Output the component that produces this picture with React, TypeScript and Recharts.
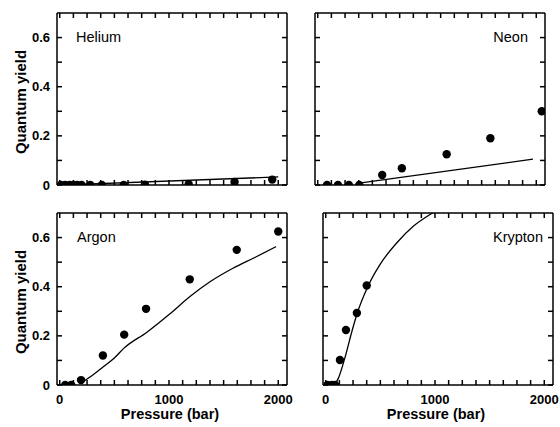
import { ComposedChart, XAxis, YAxis, Scatter, Line } from 'recharts';

const FONT = '"Liberation Sans", Arial, Helvetica, sans-serif';

// axes
const X_DOMAIN = [-25, 2080];
const Y_DOMAIN = [0, 0.7];
const xTicks = [0, 125, 250, 375, 500, 625, 750, 875, 1000, 1125, 1250, 1375, 1500, 1625, 1750, 1875, 2000];
const xLabels = [0, 1000, 2000];
const yTicks = [0, 0.1, 0.2, 0.3, 0.4, 0.5, 0.6];
const yLabels = [0, 0.2, 0.4, 0.6];

// Helium
const heliumP = [10, 50, 90, 125, 160, 200, 280, 385, 585, 780, 1180, 1600, 1945];
const heliumY = [0, 0, 0, 0, 0, 0, 0, 0, 0, 0.001, 0.003, 0.012, 0.022];
const heliumFitP = [50, 2000];
const heliumFitY = [0, 0.033];

// Neon
const neonP = [85, 185, 285, 380, 590, 770, 1180, 1580, 2050];
const neonY = [0, 0, 0, 0, 0.041, 0.068, 0.125, 0.19, 0.3];
const neonFitP = [378, 1970];
const neonFitY = [0.008, 0.105];

// Argon
const argonP = [50, 105, 195, 395, 590, 790, 1190, 1620, 2000];
const argonY = [0, 0, 0.02, 0.12, 0.205, 0.31, 0.43, 0.55, 0.625];
const argonFitP = [195, 300, 396, 500, 588, 798, 1009, 1192, 1375, 1585, 1790, 1980];
const argonFitY = [0.008, 0.04, 0.073, 0.11, 0.15, 0.215, 0.29, 0.36, 0.42, 0.475, 0.52, 0.563];

// Krypton
const kryptonP = [15, 55, 85, 130, 185, 285, 375];
const kryptonY = [0, 0, 0, 0.102, 0.224, 0.293, 0.405];
const kryptonFitP = [78, 115, 170, 243, 289, 390, 496, 649, 801, 969, 1050];
const kryptonFitY = [0, 0.027, 0.102, 0.224, 0.293, 0.405, 0.49, 0.578, 0.646, 0.698, 0.72];

const toPts = (p: number[], y: number[]) => p.map((v, i) => ({ p: v, y: y[i] }));

const W = 230;
const H = 172;
const PL = 57;
const PT = 6;
const PR = 6;
const PB = 42;
const TICK = 5;

const frame = { stroke: '#000', strokeWidth: 1.5 };
const tickStroke = { stroke: '#000', strokeWidth: 1.5 };
const txt = { fontFamily: FONT, fill: '#000' };

// tick lines only (tick={false} would drop the lines too)
const noLabel = () => <g />;

const bottomTick = (labels: boolean) => (props: any) => {
  const { x, y, payload } = props;
  const v = payload.value;
  if (!labels || !xLabels.includes(v)) return <g />;
  return (
    <text x={x} y={y + 19} textAnchor="middle" fontSize={13} fontWeight="bold" {...txt}>
      {v}
    </text>
  );
};

const leftTick = (labels: boolean) => (props: any) => {
  const { x, y, payload } = props;
  const v = payload.value;
  if (!labels || !yLabels.includes(v)) return <g />;
  return (
    <text x={x - 7} y={y + 4.5} textAnchor="end" fontSize={13} fontWeight="bold" {...txt}>
      {v === 0 ? '0' : v.toFixed(1)}
    </text>
  );
};

interface PanelProps {
  left: number;
  top: number;
  name: string;
  nameX: number;
  nameAnchor: 'start' | 'end';
  dots: { p: number; y: number }[];
  fit: { p: number; y: number }[];
  xLabel: boolean;
  yLabel: boolean;
}

function Panel({ left, top, name, nameX, nameAnchor, dots, fit, xLabel, yLabel }: PanelProps) {
  return (
    <div style={{ position: 'absolute', left: left - PL, top: top - PT }}>
      <ComposedChart width={W + PL + PR} height={H + PT + PB} margin={{ top: PT, right: PR, left: 0, bottom: 0 }}>
        <XAxis
          xAxisId="b"
          dataKey="p"
          type="number"
          domain={X_DOMAIN}
          allowDataOverflow
          ticks={xTicks}
          interval={0}
          tickSize={-TICK}
          tickMargin={TICK}
          height={PB}
          axisLine={frame}
          tickLine={tickStroke}
          tick={bottomTick(xLabel)}
          label={
            xLabel
              ? {
                  content: () => (
                    <text x={PL + W / 2 - 2} y={PT + H + 34} textAnchor="middle" fontSize={14.5} fontWeight="bold" {...txt}>
                      Pressure (bar)
                    </text>
                  ),
                }
              : undefined
          }
        />
        <XAxis
          xAxisId="t"
          orientation="top"
          mirror
          dataKey="p"
          type="number"
          domain={X_DOMAIN}
          allowDataOverflow
          ticks={xTicks}
          interval={0}
          tickSize={TICK}
          height={30}
          axisLine={frame}
          tickLine={tickStroke}
          tick={noLabel}
          label={{
            content: () => (
              <text x={PL + nameX} y={PT + 29} textAnchor={nameAnchor} fontSize={14.5} {...txt}>
                {name}
              </text>
            ),
          }}
        />
        <YAxis
          yAxisId="l"
          type="number"
          domain={Y_DOMAIN}
          allowDataOverflow
          ticks={yTicks}
          interval={0}
          tickSize={-TICK}
          tickMargin={TICK}
          width={PL}
          axisLine={frame}
          tickLine={tickStroke}
          tick={leftTick(yLabel)}
          label={
            yLabel
              ? {
                  content: () => (
                    <text
                      x={20}
                      y={PT + H / 2 + 3}
                      transform={`rotate(-90, 20, ${PT + H / 2 + 3})`}
                      textAnchor="middle"
                      dominantBaseline="central"
                      fontSize={15}
                      fontWeight="bold"
                      {...txt}
                    >
                      Quantum yield
                    </text>
                  ),
                }
              : undefined
          }
        />
        <YAxis
          yAxisId="r"
          orientation="right"
          mirror
          type="number"
          domain={Y_DOMAIN}
          allowDataOverflow
          ticks={yTicks}
          interval={0}
          tickSize={TICK}
          width={30}
          axisLine={frame}
          tickLine={tickStroke}
          tick={noLabel}
        />
        {/* fit curve on the top/right axes (same scales) so those axes get their ticks */}
        <Line
          xAxisId="t"
          yAxisId="r"
          data={fit}
          dataKey="y"
          type="monotone"
          stroke="#000"
          strokeWidth={1.3}
          dot={false}
          activeDot={false}
          isAnimationActive={false}
        />
        <Scatter
          xAxisId="b"
          yAxisId="l"
          data={dots}
          dataKey="y"
          isAnimationActive={false}
          shape={(p: any) => <circle cx={p.cx} cy={p.cy} r={4.2} fill="#000" />}
        />
      </ComposedChart>
    </div>
  );
}

export default function App() {
  return (
    <div style={{ position: 'absolute', left: 0, top: 0, width: 560, height: 427, background: '#fff', overflow: 'hidden' }}>
      <Panel left={57} top={13} name="Helium" nameX={19} nameAnchor="start" dots={toPts(heliumP, heliumY)} fit={toPts(heliumFitP, heliumFitY)} xLabel={false} yLabel />
      <Panel left={315} top={13} name="Neon" nameX={W - 17} nameAnchor="end" dots={toPts(neonP, neonY)} fit={toPts(neonFitP, neonFitY)} xLabel={false} yLabel={false} />
      <Panel left={57} top={213} name="Argon" nameX={20} nameAnchor="start" dots={toPts(argonP, argonY)} fit={toPts(argonFitP, argonFitY)} xLabel yLabel />
      <Panel left={323} top={213} name="Krypton" nameX={W - 10} nameAnchor="end" dots={toPts(kryptonP, kryptonY)} fit={toPts(kryptonFitP, kryptonFitY)} xLabel yLabel={false} />
    </div>
  );
}
